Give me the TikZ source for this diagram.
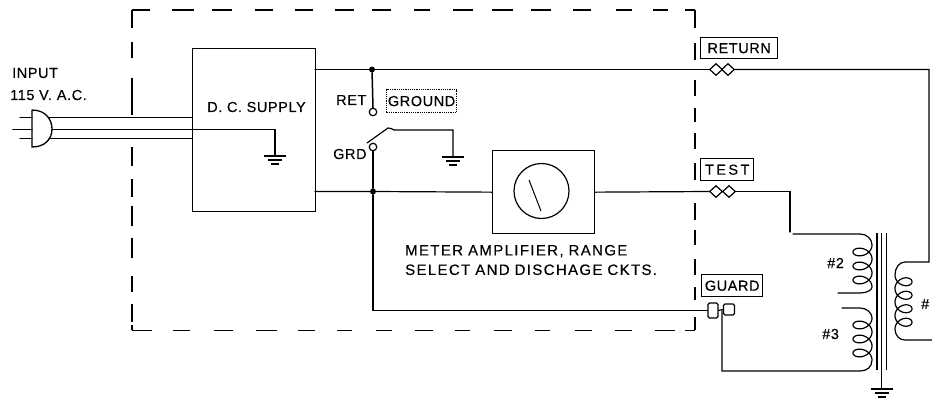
\documentclass[tikz,border=0pt]{standalone}
\usepackage{fontspec}
\setmainfont{Liberation Sans}
\newfontfamily\lblfont[LetterSpace=4,FakeBold=0.3]{Liberation Sans}
\newfontfamily\metfont[LetterSpace=9,WordSpace=2.2,FakeBold=0.3]{Liberation Sans}
\usetikzlibrary{shapes.geometric,calc}
\tikzset{
  wire/.style={line width=1.2pt,line cap=round},
  lbl/.style={font=\lblfont\fontsize{14.5}{14.5}\selectfont,inner sep=0pt,anchor=west},
  tag/.style={draw,line width=1.4pt,font=\lblfont\fontsize{14.5}{14.5}\selectfont,inner sep=0pt,anchor=north west},
  term/.style={draw,line width=1.2pt,diamond,inner sep=0pt,minimum width=13pt,minimum height=12pt,fill=white},
  jn/.style={circle,fill=black,inner sep=0pt,minimum size=6pt},
  opn/.style={circle,draw,line width=1.2pt,inner sep=0pt,minimum size=7.5pt,fill=white},
  boxb/.style={draw,line width=1.3pt,inner sep=0pt,anchor=north west}
}
\newcommand{\gnd}[1]{%
  \draw[line width=1.1pt] ($(#1)+(-11,0)$) -- ($(#1)+(11,0)$);
  \draw[line width=1.1pt] ($(#1)+(-7,4)$) -- ($(#1)+(7,4)$);
  \draw[line width=1.1pt] ($(#1)+(-4,8)$) -- ($(#1)+(4,8)$);}
\begin{document}
\begin{tikzpicture}[x=1pt,y=-1pt]
\useasboundingbox (0,0) rectangle (932,400);
% enclosure, dash by dash
\foreach \a/\b in {132/150,172/194,212/232,255/273,295/313,335/354,372/391,414/430,453/473,492/513,531/551,573/591,616/632,653/668,685/695}
  \draw[line width=1.1pt] (\a,10) -- (\b,10);
\foreach \a/\b in {132/152,173/190,214/233,256/277,298/315,337/352,376/392,415/433,455/470,494/512,535/550,575/592,615/632,655/675,685/695}
  \draw[line width=0.9pt] (\a,330) -- (\b,330);
\foreach \a/\b in {10/28,42/58,78/115,147/166,179/197,206/226,238/258,276/292,304/322,325/330}
  \draw[line width=1.1pt] (132,\a) -- (132,\b);
\foreach \a/\b in {10/28,43/60,80/96,108/122,133/149,163/180,203/220,230/245,259/275,287/300,317/330}
  \draw[line width=1.1pt] (695,\a) -- (695,\b);
% boxes
\node[boxb,minimum width=123pt,minimum height=163pt] (dc) at (192,48) {};
\node[font=\lblfont\fontsize{14.5}{14.5}\selectfont,inner sep=0pt] (dct) at (256.5,107) {D. C. SUPPLY};
\node[boxb,minimum width=102pt,minimum height=83pt] (meter) at (492,150) {};
\node[circle,draw,line width=1.2pt,minimum size=55pt,inner sep=0pt] (dial) at (541.5,191) {};
\coordinate (nda) at (529,180); \coordinate (ndb) at (541,211);
\draw[line width=1pt] (nda) -- (ndb);
% plug
\coordinate (pa) at (32,110); \coordinate (pb) at (32,147);
\draw[wire,line width=1.3pt] (pa) -- (pb) .. controls (46,147) and (52,138) .. (52,129) .. controls (52,120) and (46,110) .. (pa);
\coordinate (p1) at (49,117.5); \coordinate (p2) at (52,129.5); \coordinate (p3) at (49,138.5);
\coordinate (d1) at (192,117.5); \coordinate (d2) at (192,129.5); \coordinate (d3) at (192,138.5);
\draw[wire] (p1) -- (d1); \draw[wire,line width=1.4pt] (p2) -- (d2); \draw[wire] (p3) -- (d3);
\draw[wire] (20,117.5) -- (32,117.5); \draw[wire,line width=1.6pt] (13,129.5) -- (32,129.5); \draw[wire] (20,138.5) -- (32,138.5);
\coordinate (gdc) at (275,156);
\draw[wire] (d2) -| (gdc); \gnd{gdc}
% labels
\node[lbl] (inp) at (12,73) {INPUT};
\node[lbl] (v) at (10,95) {115 V.\,\,A.C.};
\node[lbl] (ret) at (336,100) {RET};
\node[lbl] (grd) at (333,154) {GRD};
\node[lbl,font=\metfont\fontsize{15}{19.5}\selectfont,text width=285pt,align=left] (mt) at (405,260) {METER AMPLIFIER, RANGE\\SELECT AND DISCHAGE CKTS.};
\node[lbl] (n2) at (827,263) {\#2};
\node[lbl] (n3) at (822,334) {\#3};
\node[lbl] (n1) at (921,304) {\#};
% tags
\node[tag,minimum width=77pt,minimum height=21pt] (treturn) at (700,37) {RETURN};
\node[tag,minimum width=53pt,minimum height=22pt] (ttest) at (700,158) {T\,E\,S\,T};
\node[tag,minimum width=61pt,minimum height=22pt] (tguard) at (701,274) {GUARD};
\node[tag,line width=1.2pt,densely dotted,minimum width=70pt,minimum height=23pt] (tground) at (386,89) {};
\node[font=\lblfont\fontsize{14.5}{14.5}\selectfont,inner sep=0pt] at (tground) {GROUND};
% terminals
\node[term] (r1) at (716,69.5) {}; \node[term] (r2) at (728,69.5) {};
\node[term] (t1) at (716,191.5) {}; \node[term] (t2) at (729,191.5) {};
\node[draw,line width=1.2pt,rounded corners=1.5pt,minimum width=10pt,minimum height=15pt,inner sep=0pt,fill=white] (g1) at (713,310.5) {};
\node[draw,line width=1.2pt,rounded corners=1.5pt,minimum width=11pt,minimum height=11pt,inner sep=0pt,fill=white] (g2) at (729,309.5) {};
% junctions and contacts
\node[jn] (j1) at (372,69.5) {}; \node[jn] (j2) at (373,191.5) {};
\node[opn] (cret) at (373,112) {}; \node[opn] (cgrd) at (373,147) {};
% wiring
\coordinate (dcr) at (315,69.5); \coordinate (dcb) at (315,191.5);
\draw[wire] (dcr) -- (j1) -- (r1.west);
\draw[wire,line width=1.5pt] (j1) -- (cret.north);
\draw[wire] (dcb) -- (j2) -- (meter.west);
\draw[wire,line width=1.5pt] (cgrd.south) -- (j2);
\coordinate (b1) at (373,310.5);
\draw[wire,line width=1.4pt] (j2) -- (b1) -- (g1.west);
\draw[wire] (meter.east) -- (t1.west);
\draw[wire] (g1.east) -- (g2.west);
% switch
\coordinate (s1) at (367,143); \coordinate (s2) at (388,128); \coordinate (s3) at (394,130); \coordinate (gsw) at (453,157);
\draw[wire] (s1) -- (s2) .. controls (391,127) and (392,130) .. (s3) -| (gsw); \gnd{gsw}
% secondaries
\coordinate (rt) at (929,69.5); \coordinate (rb) at (929,262);
\draw[wire] (r2.east) -- (rt) -- (rb) -- (905,262) .. controls (899,262) and (895,268) .. (895,275)
  -- plot[domain=0:1440,samples=140,smooth] ({903.5-8.5*cos(\x)},{275+\x/360*13.5+7*sin(\x)})
  .. controls (895,335) and (899,340) .. (905,340) -- (932,340);
\coordinate (tc) at (790,191.5);
\draw[wire] (t2.east) -- (tc) -- (790,232);
\draw[wire] (793,234) -- (860,234) .. controls (867,234) and (872,239) .. (872,245)
  -- plot[domain=0:1080,samples=110,smooth] ({862.5+9.5*cos(\x)},{245+\x/360*14+7*sin(\x)})
  .. controls (872,290) and (867,293) .. (860,293) -- (838,293);
\coordinate (gd) at (722,371);
\draw[wire] (842,308) -- (860,308) .. controls (867,308) and (872,313) .. (872,318)
  -- plot[domain=0:1080,samples=110,smooth] ({862.5+9.5*cos(\x)},{318+\x/360*14+7*sin(\x)})
  .. controls (872,367) and (867,371) .. (860,371) -- (gd) -- (722,311);
% core
\draw[line width=1.2pt] (877,233) -- (877,370);
\draw[line width=1.2pt] (881.5,233) -- (881.5,388);
\draw[line width=1.4pt] (886.5,233) -- (886.5,370);
\coordinate (gt) at (881.5,389); \gnd{gt}
\end{tikzpicture}
\end{document}
